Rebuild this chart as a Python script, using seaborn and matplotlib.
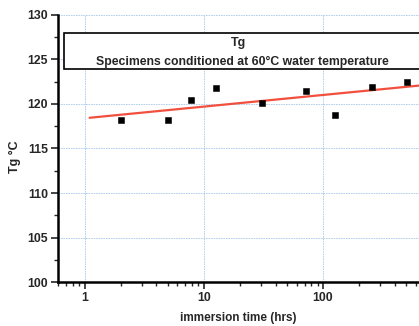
import numpy as np
import pandas as pd
import matplotlib
matplotlib.use("Agg")
import matplotlib.pyplot as plt
import seaborn as sns
from matplotlib.patches import Rectangle
from matplotlib.ticker import LogLocator, MultipleLocator, FixedLocator

# datos
horas = [2, 5, 7.8, 12.6, 31, 72, 126, 260, 505]
tg = [118.2, 118.2, 120.4, 121.8, 120.1, 121.4, 118.8, 121.9, 122.4]
x_ticks = [1, 10, 100]
x_tick_labels = ["1", "10", "100"]
y_ticks = [100, 105, 110, 115, 120, 125, 130]

df = pd.DataFrame({"horas": horas, "tg": tg})

# ajuste lineal sobre log10(t)
pend, orden = np.polyfit(np.log10(df["horas"]), df["tg"], 1)
x_fit = np.logspace(np.log10(1.1), np.log10(650), 50)
df_fit = pd.DataFrame({"horas": x_fit, "tg": orden + pend * np.log10(x_fit)})

sns.set_style("white")
plt.rcParams["font.family"] = ["Liberation Sans", "DejaVu Sans"]
plt.rcParams["font.weight"] = "bold"

fig = plt.figure(figsize=(4.19, 3.26), dpi=100)
ax = fig.add_axes([0.138, 0.134, 0.862, 0.821])

sns.lineplot(data=df_fit, x="horas", y="tg", color="#f2503f", linewidth=1.6, ax=ax)
sns.scatterplot(data=df, x="horas", y="tg", marker="s", color="black", s=24,
                edgecolor="black", ax=ax, zorder=5)

ax.set_xscale("log")
ax.set_xlim(0.595, 640)
ax.set_ylim(100, 130)
ax.xaxis.set_major_locator(FixedLocator(x_ticks))
ax.set_xticklabels(x_tick_labels)
ax.xaxis.set_minor_locator(LogLocator(base=10, subs=np.arange(2, 10)))
ax.yaxis.set_major_locator(FixedLocator(y_ticks))
ax.yaxis.set_minor_locator(MultipleLocator(2.5))
ax.tick_params(which="major", direction="out", length=5, width=1.2, labelsize=8.8, pad=2)
ax.tick_params(which="minor", direction="out", length=3, width=1.0)
ax.tick_params(axis="x", which="both", bottom=True)
ax.tick_params(axis="y", which="both", left=True)

ax.grid(True, which="major", color="#a9c8e8", linestyle=(0, (2, 1)), linewidth=0.6)
for s in ["top", "right"]:
    ax.spines[s].set_visible(False)
for s in ["left", "bottom"]:
    ax.spines[s].set_color("black")
    ax.spines[s].set_linewidth(1.8)

# caja de leyenda
caja = Rectangle((0.016, 123.9), 1.2, 4.05, transform=ax.get_yaxis_transform(),
                 facecolor="white", edgecolor="black", linewidth=1.2, zorder=6,
                 clip_on=False)
ax.add_patch(caja)
ax.text(0.5, 126.8, "Tg", transform=ax.get_yaxis_transform(), ha="center",
        va="center", fontsize=9, fontweight="bold", zorder=7)
ax.text(0.51, 124.75, "Specimens conditioned at 60°C water temperature",
        transform=ax.get_yaxis_transform(), ha="center", va="center",
        fontsize=8.8, fontweight="bold", zorder=7)

ax.set_xlabel("immersion time (hrs)", fontsize=8.5, fontweight="bold", labelpad=6)
ax.set_ylabel("Tg °C", fontsize=9, fontweight="bold")
ax.yaxis.set_label_coords(-0.102, 0.47)

fig.savefig("out.png", dpi=100)
